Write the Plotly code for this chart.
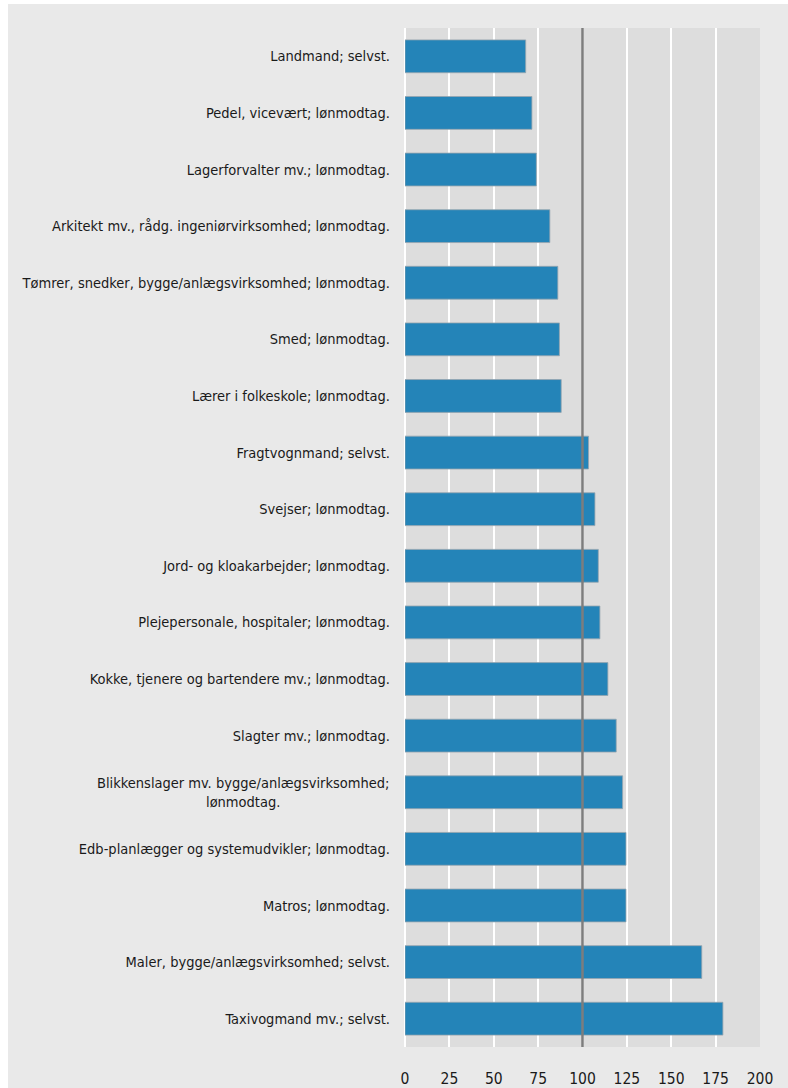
import plotly.graph_objects as go

categories = [
    "Landmand; selvst.",
    "Pedel, vicevært; lønmodtag.",
    "Lagerforvalter mv.; lønmodtag.",
    "Arkitekt mv., rådg. ingeniørvirksomhed; lønmodtag.",
    "Tømrer, snedker, bygge/anlægsvirksomhed; lønmodtag.",
    "Smed; lønmodtag.",
    "Lærer i folkeskole; lønmodtag.",
    "Fragtvognmand; selvst.",
    "Svejser; lønmodtag.",
    "Jord- og kloakarbejder; lønmodtag.",
    "Plejepersonale, hospitaler; lønmodtag.",
    "Kokke, tjenere og bartendere mv.; lønmodtag.",
    "Slagter mv.; lønmodtag.",
    "Blikkenslager mv. bygge/anlægsvirksomhed;<br>lønmodtag.",
    "Edb-planlægger og systemudvikler; lønmodtag.",
    "Matros; lønmodtag.",
    "Maler, bygge/anlægsvirksomhed; selvst.",
    "Taxivogmand mv.; selvst.",
]
values = [68, 71.5, 74, 81.6, 86.1, 87, 88, 103.4, 107, 108.9, 109.8, 114.3,
          119, 122.6, 124.5, 124.5, 167.2, 179.1]
x_ticks = [0, 25, 50, 75, 100, 125, 150, 175, 200]
reference_value = 100
wrapped_label = categories[13]

FONT = "DejaVu Sans Condensed, Liberation Sans Narrow, Arial Narrow, sans-serif"
PAPER = "#e9e9e9"
PLOT = "#dddddd"
LABEL_SIZE = 14.5

fig = go.Figure(go.Bar(
    x=values, y=categories, orientation="h",
    marker=dict(color="#2484b8", line=dict(color="rgba(150,165,175,0.8)", width=1)),
    width=0.58,
    hoverinfo="x+y",
))

ticktext = ["" if c == wrapped_label else c for c in categories]

fig.update_layout(
    width=780, height=1084,
    margin=dict(l=397, r=28, t=24, b=41, autoexpand=False),
    paper_bgcolor=PAPER,
    plot_bgcolor=PLOT,
    showlegend=False,
    font=dict(family=FONT, size=LABEL_SIZE, color="#1a1a1a"),
    xaxis=dict(
        range=[0, 200], tickvals=x_ticks, ticktext=[str(v) for v in x_ticks],
        showgrid=True, gridcolor="white", gridwidth=1.5,
        zeroline=True, zerolinecolor="white", zerolinewidth=1.5,
        showline=False, ticks="", ticklabelstandoff=20, automargin=False,
        tickfont=dict(family=FONT, size=15.5, color="#1a1a1a"),
        fixedrange=True,
    ),
    yaxis=dict(
        autorange="reversed", tickvals=categories, ticktext=ticktext,
        showgrid=False, zeroline=False, showline=False, ticks="",
        ticklabelstandoff=14, automargin=False,
        tickfont=dict(family=FONT, size=LABEL_SIZE, color="#1a1a1a"),
        fixedrange=True,
    ),
    shapes=[
        dict(type="line", xref="x", yref="paper", x0=reference_value, x1=reference_value,
             y0=0, y1=1, line=dict(color="#7d7d7d", width=2.5), layer="above"),
    ],
    annotations=[
        dict(text=wrapped_label, xref="paper", yref="y", x=0, y=wrapped_label,
             xanchor="right", yanchor="middle", xshift=-14, align="center",
             showarrow=False, font=dict(family=FONT, size=LABEL_SIZE, color="#1a1a1a")),
    ],
)

page_js = (
    "document.body.style.margin='0';"
    "document.body.style.padding='4px 0 0 8px';"
    "document.documentElement.style.overflow='hidden';"
    "document.body.style.overflow='hidden';"
)

fig.write_html("out.html", post_script=page_js)
